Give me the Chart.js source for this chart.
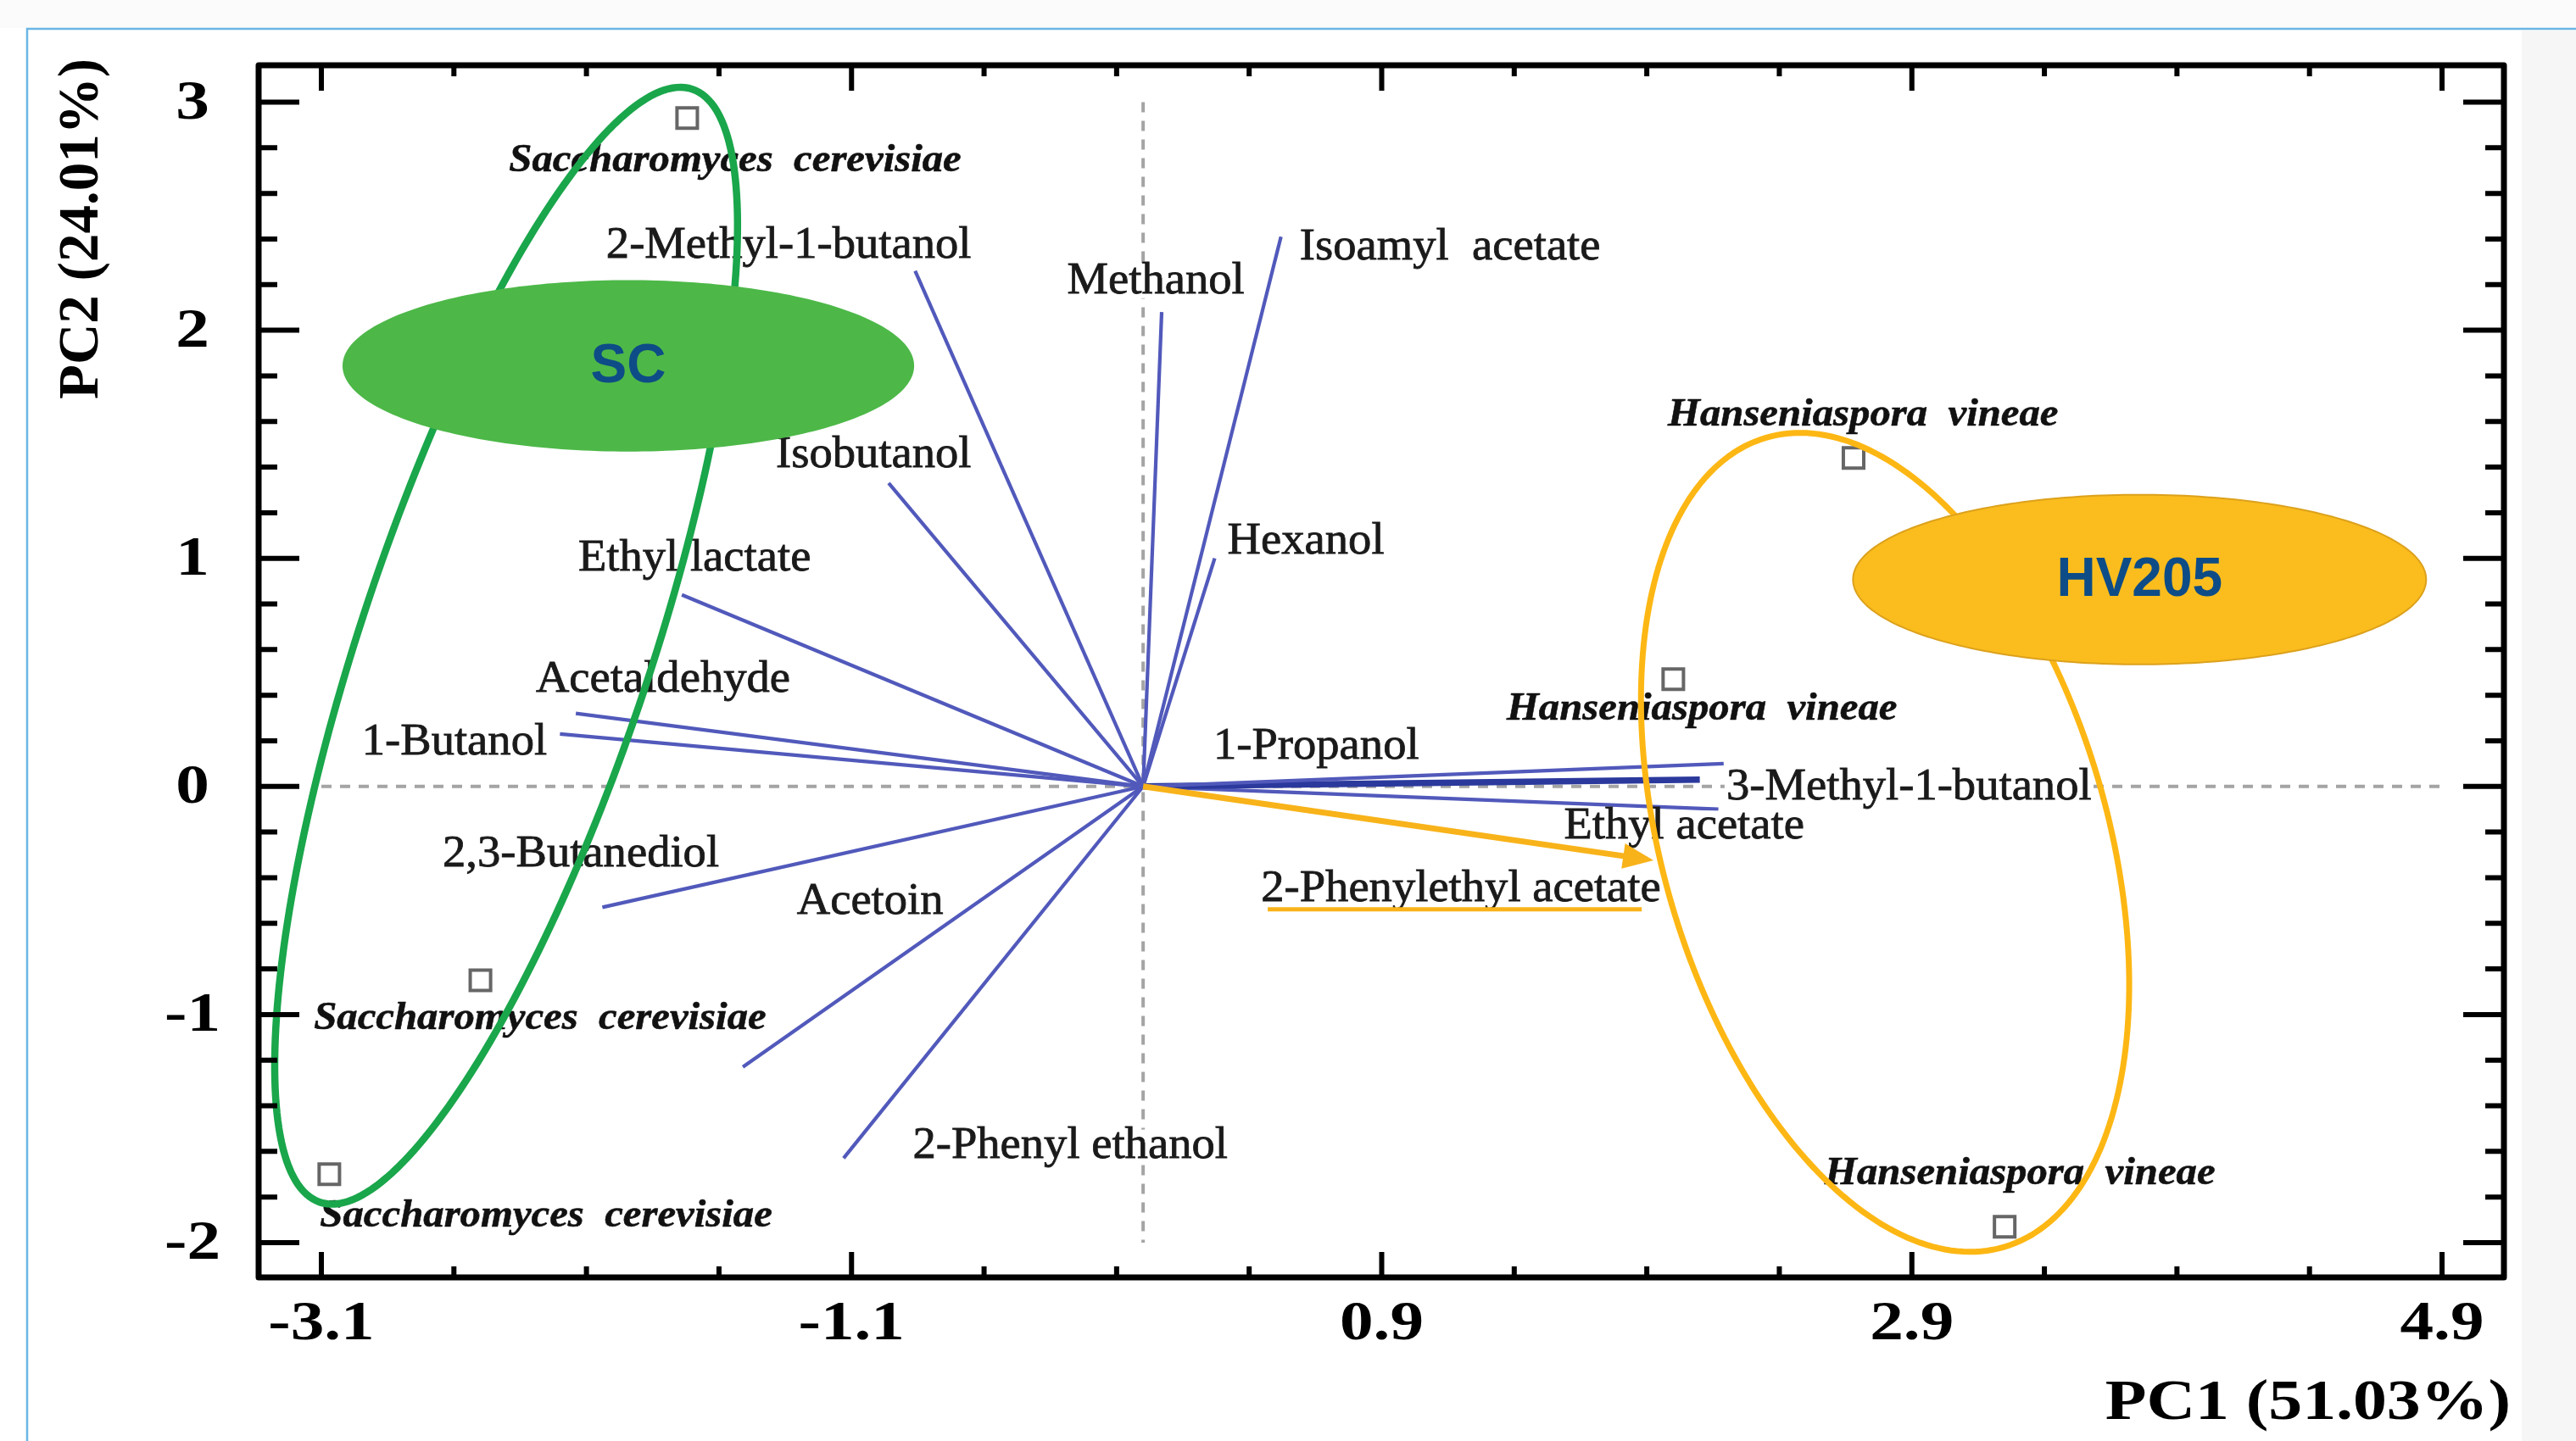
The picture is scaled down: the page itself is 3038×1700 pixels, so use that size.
<!DOCTYPE html>
<html><head><meta charset="utf-8">
<script src="https://cdn.jsdelivr.net/npm/chart.js@4.4.1/dist/chart.umd.min.js"></script>
<style>html,body{margin:0;padding:0;background:#fff;overflow:hidden}canvas{display:block}</style>
</head><body><canvas id="c" width="3038" height="1700"></canvas>
<script>
// ---------------- DATA ----------------
const sampleNames = ["Saccharomyces  cerevisiae", "Saccharomyces  cerevisiae", "Saccharomyces  cerevisiae",
                     "Hanseniaspora  vineae", "Hanseniaspora  vineae", "Hanseniaspora  vineae"];
const sampleGroups = ["SC", "SC", "SC", "HV205", "HV205", "HV205"];
const samplePC1 = [-1.72, -2.50, -3.07, 2.00, 2.68, 3.25];
const samplePC2 = [2.93, -0.85, -1.70, 0.47, 1.44, -1.93];

const variableNames = ["2-Methyl-1-butanol", "Methanol", "Isoamyl  acetate", "Isobutanol", "Hexanol",
  "Ethyl lactate", "Acetaldehyde", "1-Butanol", "2,3-Butanediol", "Acetoin", "2-Phenyl ethanol",
  "1-Propanol", "3-Methyl-1-butanol", "Ethyl acetate", "2-Phenylethyl acetate"];
const loadingPC1 = [-0.86, 0.07, 0.52, -0.96, 0.27, -1.74, -2.14, -2.20, -2.04, -1.51, -1.13, 2.19, 2.10, 2.17, 1.90];
const loadingPC2 = [2.26, 2.08, 2.41, 1.33, 1.00, 0.84, 0.32, 0.23, -0.53, -1.23, -1.63, 0.10, 0.03, -0.10, -0.32];

const xTickLabels = ["-3.1", "-1.1", "0.9", "2.9", "4.9"];
const yTickLabels = ["-2", "-1", "0", "1", "2", "3"];
const xTitle = "PC1 (51.03%)";
const yTitle = "PC2 (24.01%)";
const groupNames = ["SC", "HV205"];
const highlighted = "2-Phenylethyl acetate";
const emphasised = "3-Methyl-1-butanol";

// ---------------- LAYOUT / STYLE (annotation placement, in data units) ----------------
const varLabelAt = [[-1.337, 2.368], [0.048, 2.212], [1.158, 2.361], [-1.017, 1.450], [0.614, 1.071],
  [-1.692, 0.996], [-1.811, 0.468], [-2.598, 0.193], [-2.121, -0.301], [-1.030, -0.506], [-0.275, -1.576],
  [0.653, 0.171], [2.889, -0.007], [2.041, -0.178], [1.199, -0.450]];
const sampleLabelAt = [[-1.539, 2.743], [-2.275, -1.019], [-2.252, -1.885], [2.108, 0.338], [2.716, 1.625], [3.308, -1.699]];
const groupOutline = {
  SC: { c: [-2.403, 0.617], u: [0.702, 2.440], v: [0.519, -0.201], color: '#1aa64b', width: 8.5 },
  HV205: { c: [2.799, -0.245], u: [-0.449, 1.774], v: [0.804, 0.275], color: '#fdb714', width: 7 }
};
const groupBadge = {
  SC: { c: [-1.942, 1.844], rx: 1.075, ry: 0.372, fill: '#4db848', stroke: '#4db848' },
  HV205: { c: [3.759, 0.907], rx: 1.081, ry: 0.372, fill: '#fbbd1d', stroke: '#dca11c' }
};
const underlineAt = { y: -0.539, x0: 0.470, x1: 1.881 };

const BLUE = '#5159bb';
const YELLOW = '#f8b31a';
const TXT = '#1a1a1a';
const varFont = '52px "Liberation Serif"', varSX = 1.05;
const spFont = 'italic bold 46px "Liberation Serif"', spSX = 1.06;
const tickFont = 'bold 66px "Liberation Serif"', tickSX = 1.2;
const titleFont = 'bold 67px "Liberation Serif"';

const xMajor = xTickLabels.map(Number), yMajor = yTickLabels.map(Number);
function withMinor(major, step, lo, hi) {
  const out = [];
  const start = major[0];
  for (let k = -20; k <= 60; k++) {
    const v = +(start + k * step).toFixed(6);
    if (v >= lo && v <= hi) out.push(v);
  }
  return out;
}

function drawText(ctx, txt, x, y, font, color, sx, align, bg, rot, heavy) {
  ctx.save();
  ctx.translate(x, y);
  if (rot) ctx.rotate(rot);
  ctx.scale(sx, 1);
  ctx.font = font;
  ctx.textAlign = align || 'center';
  ctx.textBaseline = 'middle';
  if (bg) {
    const w = ctx.measureText(txt).width;
    const fs = parseFloat(font.match(/(\d+(\.\d+)?)px/)[1]);
    const h = fs * 0.74;
    const x0 = align === 'left' ? 0 : align === 'right' ? -w : -w / 2;
    ctx.fillStyle = '#fff';
    ctx.fillRect(x0 - 2, -h / 2, w + 4, h);
  }
  ctx.fillStyle = color;
  ctx.fillText(txt, 0, 0);
  if (heavy) { ctx.strokeStyle = color; ctx.lineWidth = heavy; ctx.strokeText(txt, 0, 0); }
  ctx.restore();
}

function ellipsePath(ctx, xs, ys, c, u, v) {
  ctx.beginPath();
  const n = 240;
  for (let i = 0; i <= n; i++) {
    const t = i / n * 2 * Math.PI;
    const dx = c[0] + u[0] * Math.cos(t) + v[0] * Math.sin(t);
    const dy = c[1] + u[1] * Math.cos(t) + v[1] * Math.sin(t);
    const px = xs.getPixelForValue(dx), py = ys.getPixelForValue(dy);
    if (i === 0) ctx.moveTo(px, py); else ctx.lineTo(px, py);
  }
  ctx.closePath();
}

// ---------------- DATASETS ----------------
const datasets = [];
variableNames.forEach((name, i) => {
  const strong = name === emphasised;
  datasets.push({
    label: name, data: [{ x: 0, y: 0 }, { x: loadingPC1[i], y: loadingPC2[i] }],
    showLine: true, borderColor: strong ? '#2b399d' : BLUE, borderWidth: strong ? 7.5 : 4.2,
    pointRadius: 0, order: 3
  });
});
const hi = variableNames.indexOf(highlighted);
datasets.push({
  label: highlighted + ' (highlight)', data: [{ x: 0, y: 0 }, { x: loadingPC1[hi], y: loadingPC2[hi] }],
  showLine: true, borderColor: YELLOW, borderWidth: 7, pointRadius: 0, order: 2
});
datasets.push({
  label: 'samples', data: samplePC1.map((x, i) => ({ x, y: samplePC2[i] })), showLine: false,
  pointStyle: 'rect', pointRadius: 17, borderColor: '#666', borderWidth: 4,
  backgroundColor: 'rgba(255,255,255,0)', order: 1
});

// ---------------- PLUGIN ----------------
const biplot = {
  id: 'biplot',
  beforeDraw(chart) {
    const { ctx, width, height } = chart;
    ctx.save();
    ctx.fillStyle = '#fff'; ctx.fillRect(0, 0, width, height);
    ctx.fillStyle = '#f6f6f6'; ctx.fillRect(2974, 36, width - 2974, height);
    ctx.fillStyle = '#fbfbfb'; ctx.fillRect(0, 0, width, 33);
    ctx.strokeStyle = '#6ab6e4'; ctx.lineWidth = 2.5;
    ctx.beginPath(); ctx.moveTo(32, 1700); ctx.lineTo(32, 34); ctx.lineTo(width, 34); ctx.stroke();
    ctx.restore();
  },
  beforeDatasetsDraw(chart) {
    const { ctx, scales: { x: xs, y: ys } } = chart;
    ctx.save();
    ctx.strokeStyle = '#a4a4a4'; ctx.lineWidth = 4; ctx.setLineDash([12, 10]);
    ctx.beginPath();
    ctx.moveTo(xs.getPixelForValue(xMajor[0]), ys.getPixelForValue(0));
    ctx.lineTo(xs.getPixelForValue(xMajor[xMajor.length - 1]), ys.getPixelForValue(0));
    ctx.moveTo(xs.getPixelForValue(0), ys.getPixelForValue(yMajor[yMajor.length - 1]));
    ctx.lineTo(xs.getPixelForValue(0), ys.getPixelForValue(yMajor[0]));
    ctx.stroke();
    ctx.restore();
  },
  afterDatasetsDraw(chart) {
    const { ctx, scales: { x: xs, y: ys } } = chart;
    variableNames.forEach((name, i) => {
      const [lx, ly] = varLabelAt[i];
      drawText(ctx, name, xs.getPixelForValue(lx), ys.getPixelForValue(ly), varFont, TXT, varSX, 'center', true, 0, 0.8);
    });
    sampleNames.forEach((name, i) => {
      const [lx, ly] = sampleLabelAt[i];
      drawText(ctx, name, xs.getPixelForValue(lx), ys.getPixelForValue(ly), spFont, '#111', spSX, 'center', true, 0, 0.6);
    });
    const ox = xs.getPixelForValue(0), oy = ys.getPixelForValue(0);
    const tx = xs.getPixelForValue(loadingPC1[hi]), ty = ys.getPixelForValue(loadingPC2[hi]);
    const ang = Math.atan2(ty - oy, tx - ox);
    ctx.save();
    ctx.translate(tx, ty); ctx.rotate(ang);
    ctx.fillStyle = YELLOW;
    ctx.beginPath(); ctx.moveTo(8, 0); ctx.lineTo(-28, -15); ctx.lineTo(-28, 15); ctx.closePath(); ctx.fill();
    ctx.restore();
    ctx.save();
    ctx.strokeStyle = YELLOW; ctx.lineWidth = 5;
    ctx.beginPath();
    ctx.moveTo(xs.getPixelForValue(underlineAt.x0), ys.getPixelForValue(underlineAt.y));
    ctx.lineTo(xs.getPixelForValue(underlineAt.x1), ys.getPixelForValue(underlineAt.y));
    ctx.stroke();
    ctx.restore();
    groupNames.forEach(g => {
      const e = groupOutline[g];
      ctx.save();
      ellipsePath(ctx, xs, ys, e.c, e.u, e.v);
      ctx.strokeStyle = e.color; ctx.lineWidth = e.width; ctx.stroke();
      ctx.restore();
    });
    groupNames.forEach(g => {
      const b = groupBadge[g];
      ctx.save();
      ellipsePath(ctx, xs, ys, b.c, [b.rx, 0], [0, b.ry]);
      ctx.fillStyle = b.fill; ctx.fill();
      ctx.strokeStyle = b.stroke; ctx.lineWidth = 2; ctx.stroke();
      ctx.restore();
      drawText(ctx, g, xs.getPixelForValue(b.c[0]), ys.getPixelForValue(b.c[1]) + 2,
        'bold 64px "Liberation Sans"', '#0e4c87', 1, 'center', false);
    });
  },
  afterDraw(chart) {
    const { ctx, chartArea: a, scales: { x: xs, y: ys } } = chart;
    ctx.save();
    ctx.strokeStyle = '#000'; ctx.lineCap = 'butt';
    ctx.lineWidth = 6;
    const xAll = withMinor(xMajor, 0.5, xs.min, xs.max);
    xAll.forEach(v => {
      const isMaj = xMajor.some(m => Math.abs(m - v) < 1e-6);
      const p = xs.getPixelForValue(v), L = isMaj ? 30 : 13;
      ctx.beginPath();
      ctx.moveTo(p, a.bottom); ctx.lineTo(p, a.bottom - L);
      ctx.moveTo(p, a.top); ctx.lineTo(p, a.top + L);
      ctx.stroke();
    });
    const yAll = withMinor(yMajor, 0.2, ys.min, ys.max);
    yAll.forEach(v => {
      const isMaj = yMajor.some(m => Math.abs(m - v) < 1e-6);
      const p = ys.getPixelForValue(v), L = isMaj ? 48 : 22;
      ctx.beginPath();
      ctx.moveTo(a.left, p); ctx.lineTo(a.left + L, p);
      ctx.moveTo(a.right, p); ctx.lineTo(a.right - L, p);
      ctx.stroke();
    });
    ctx.lineWidth = 7; ctx.lineJoin = 'round';
    ctx.strokeRect(a.left, a.top, a.right - a.left, a.bottom - a.top);
    ctx.restore();
    xTickLabels.forEach((t, i) => drawText(ctx, t, xs.getPixelForValue(xMajor[i]), a.bottom + 56, tickFont, '#000', tickSX, 'center', false));
    yTickLabels.forEach((t, i) => drawText(ctx, t, a.left - 78, ys.getPixelForValue(yMajor[i]) + 2, tickFont, '#000', tickSX, 'center', false));
    drawText(ctx, xTitle, a.right + 8, a.bottom + 150, titleFont, '#000', 1.19, 'right', false);
    drawText(ctx, yTitle, a.left - 207, a.top + 193, titleFont, '#000', 1.0, 'center', false, -Math.PI / 2);
  }
};

new Chart(document.getElementById('c').getContext('2d'), {
  type: 'scatter',
  data: { datasets },
  options: {
    responsive: false, animation: false, devicePixelRatio: 1,
    layout: { padding: { left: 305, top: 77, right: 85, bottom: 193 } },
    plugins: { legend: { display: false }, tooltip: { enabled: false }, title: { display: false } },
    scales: {
      x: {
        type: 'linear', min: -3.3367, max: 5.1335, display: true,
        grid: { display: false, drawTicks: false }, border: { display: false }, ticks: { display: false },
        afterBuildTicks: s => { s.ticks = xMajor.map(v => ({ value: v, label: String(v) })); }
      },
      y: {
        type: 'linear', min: -2.1524, max: 3.1617, display: true,
        grid: { display: false, drawTicks: false }, border: { display: false }, ticks: { display: false },
        afterBuildTicks: s => { s.ticks = yMajor.map(v => ({ value: v, label: String(v) })); }
      }
    }
  },
  plugins: [biplot]
});
</script>
</body></html>
